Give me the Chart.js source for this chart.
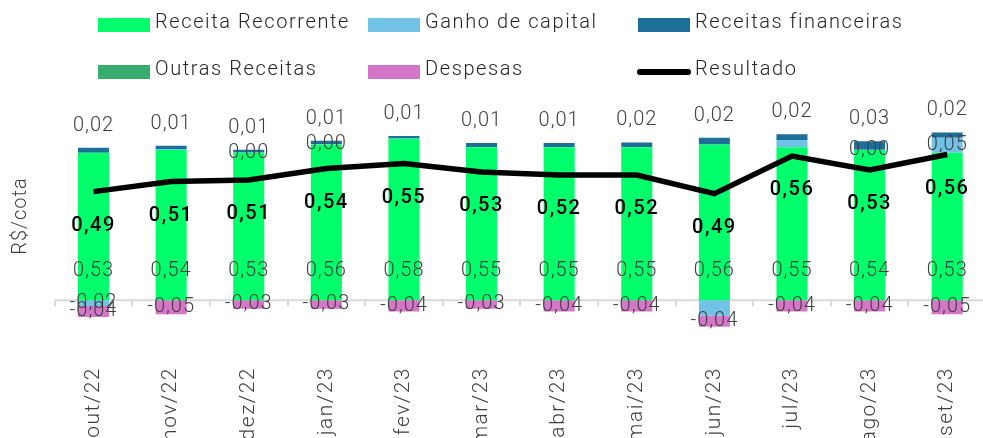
<!DOCTYPE html>
<html>
<head>
<meta charset="utf-8">
<script src="https://cdn.jsdelivr.net/npm/chart.js@4.4.1/dist/chart.umd.min.js"></script>
<style>
    html, body { margin: 0; padding: 0; background: #fff; overflow: hidden; }
    #wrap { position: relative; width: 988px; height: 438px; }
</style>
</head>
<body>
<div id="wrap"><canvas id="c"></canvas></div>
<script>
// monthly values in R$/cota
const months = ["out/22", "nov/22", "dez/22", "jan/23", "fev/23", "mar/23",
                "abr/23", "mai/23", "jun/23", "jul/23", "ago/23", "set/23"];
const receitaRecorrente = [0.53, 0.54, 0.53, 0.56, 0.58, 0.55, 0.55, 0.55, 0.56, 0.55, 0.54, 0.53];
const ganhoCapital = [-0.02, 0.003, 0.001, 0.001, 0.001, 0.001, 0.001, 0.001, -0.055, 0.026, 0.001, 0.054];
const receitasFinanceiras = [0.018, 0.012, 0.01, 0.012, 0.009, 0.014, 0.014, 0.016, 0.024, 0.02, 0.03, 0.019];
const outrasReceitas = [0, 0, 0, 0, 0, 0, 0, 0, 0, 0, 0, 0];
const despesas = [-0.04, -0.05, -0.03, -0.03, -0.04, -0.03, -0.04, -0.04, -0.04, -0.04, -0.04, -0.05];
const resultado = [0.49, 0.51, 0.513, 0.536, 0.546, 0.529, 0.523, 0.523, 0.486, 0.561, 0.533, 0.564];
// which "Ganho de capital" values carry a label in the original
const ganhoLabelShown = [true, false, true, true, false, false, false, false, false, false, true, true];

const FONT = "Roboto";
const fmt = (v) => v.toFixed(2).replace(".", ",");

const legendItems = [
    { text: "Receita Recorrente", color: "#00ff6a", type: "box" },
    { text: "Ganho de capital", color: "#72c1e6", type: "box" },
    { text: "Receitas financeiras", color: "#1d6f99", type: "box" },
    { text: "Outras Receitas", color: "#37ae6e", type: "box" },
    { text: "Despesas", color: "#d676c8", type: "box" },
    { text: "Resultado", color: "#000000", type: "line" },
];

const decorations = {
    id: "decorations",
    beforeDraw(chart) {
        // wider tracking for the axis labels, the source font runs wide
        chart.ctx.letterSpacing = "1.5px";
    },
    beforeDatasetsDraw(chart) {
        const ctx = chart.ctx;
        const y0 = chart.scales.y.getPixelForValue(0);
        const area = chart.chartArea;
        ctx.save();
        ctx.strokeStyle = "#d9d9d9";
        ctx.lineWidth = 2;
        ctx.beginPath();
        ctx.moveTo(area.left, y0);
        ctx.lineTo(area.right, y0);
        const step = area.width / months.length;
        for (let i = 0; i <= months.length; i++) {
            const tx = Math.round(area.left + i * step);
            ctx.moveTo(tx, y0);
            ctx.lineTo(tx, y0 + 6);
        }
        ctx.stroke();
        ctx.restore();
    },
    afterDraw(chart) {
        const ctx = chart.ctx;
        ctx.save();
        // legend, three columns
        ctx.font = "300 20px " + FONT;
        ctx.letterSpacing = "1.6px";
        ctx.textBaseline = "alphabetic";
        ctx.textAlign = "left";
        legendItems.forEach((it, i) => {
            const col = i % 3, row = Math.floor(i / 3);
            const bx = 98 + col * 270;
            const by = 18 + row * 47;
            if (it.type === "box") {
                ctx.fillStyle = it.color;
                ctx.fillRect(bx, by, 52, 14);
            } else {
                ctx.strokeStyle = it.color;
                ctx.lineWidth = 6;
                ctx.lineCap = "round";
                ctx.beginPath();
                ctx.moveTo(bx + 2, by + 7);
                ctx.lineTo(bx + 50, by + 7);
                ctx.stroke();
            }
            ctx.fillStyle = "#262626";
            ctx.fillText(it.text, bx + 57, by + 10);
        });
        // axis title
        ctx.letterSpacing = "1px";
        ctx.translate(21, 216);
        ctx.rotate(-Math.PI / 2);
        ctx.textAlign = "center";
        ctx.textBaseline = "middle";
        ctx.fillStyle = "#404040";
        ctx.fillText("R$/cota", 0, 0);
        ctx.restore();
        ctx.letterSpacing = "0px";
    },
};

const valueLabels = {
    id: "valueLabels",
    afterDatasetsDraw(chart) {
        const ctx = chart.ctx;
        const meta = (label) => chart.getDatasetMeta(chart.data.datasets.findIndex((d) => d.label === label));
        const rec = meta("Receita Recorrente").data;
        const gan = meta("Ganho de capital").data;
        const fin = meta("Receitas financeiras").data;
        const des = meta("Despesas").data;
        const res = meta("Resultado").data;
        ctx.save();
        ctx.textAlign = "center";
        ctx.textBaseline = "middle";
        ctx.font = "300 20px " + FONT;
        ctx.letterSpacing = "1px";
        ctx.fillStyle = "#404040";
        months.forEach((m, i) => {
            ctx.fillText(fmt(receitaRecorrente[i]), rec[i].x, rec[i].base - 29);
            ctx.fillText(fmt(receitasFinanceiras[i]), fin[i].x, Math.min(fin[i].y, gan[i].y) - 22);
            if (ganhoLabelShown[i]) {
                ctx.fillText(fmt(ganhoCapital[i]), gan[i].x, (gan[i].y + gan[i].base) / 2);
            }
            ctx.fillText(fmt(despesas[i]), des[i].x, (des[i].y + des[i].base) / 2);
        });
        ctx.font = "500 20px " + FONT;
        ctx.letterSpacing = "1.5px";
        ctx.fillStyle = "#000000";
        months.forEach((m, i) => {
            ctx.fillText(fmt(resultado[i]), res[i].x, res[i].y + 34);
        });
        ctx.restore();
    },
};

const barDefaults = { yAxisID: "y", order: 1, barPercentage: 0.4, categoryPercentage: 1, borderWidth: 0 };

new Chart(document.getElementById("c"), {
    type: "bar",
    data: {
        labels: months,
        datasets: [
            {
                type: "line",
                label: "Resultado",
                data: resultado,
                yAxisID: "y2",
                order: 0,
                borderColor: "#000000",
                borderWidth: 5.5,
                pointRadius: 0,
                tension: 0,
                fill: false,
            },
            Object.assign({ label: "Receita Recorrente", data: receitaRecorrente, backgroundColor: "#00ff6a" }, barDefaults),
            Object.assign({ label: "Ganho de capital", data: ganhoCapital, backgroundColor: "#72c1e6" }, barDefaults),
            Object.assign({ label: "Receitas financeiras", data: receitasFinanceiras, backgroundColor: "#1d6f99" }, barDefaults),
            Object.assign({ label: "Outras Receitas", data: outrasReceitas, backgroundColor: "#37ae6e" }, barDefaults),
            Object.assign({ label: "Despesas", data: despesas, backgroundColor: "#d676c8" }, barDefaults),
        ],
    },
    options: {
        responsive: true,
        maintainAspectRatio: false,
        animation: false,
        layout: { padding: { top: 105.4, left: 54.7, right: 2, bottom: 0 } },
        plugins: { legend: { display: false }, tooltip: { enabled: false } },
        scales: {
            x: {
                stacked: true,
                grid: { display: false, drawTicks: false },
                border: { display: false },
                ticks: {
                    autoSkip: false,
                    minRotation: 90,
                    maxRotation: 90,
                    padding: 11,
                    color: "#404040",
                    font: { family: FONT, size: 21, weight: "300" },
                },
                afterFit: (s) => { s.height = 82; },
            },
            y: { stacked: true, display: false, min: -0.2, max: 0.7 },
            y2: { display: false, min: 0.162, max: 0.662 },
        },
    },
    plugins: [decorations, valueLabels],
});
</script>
</body>
</html>
